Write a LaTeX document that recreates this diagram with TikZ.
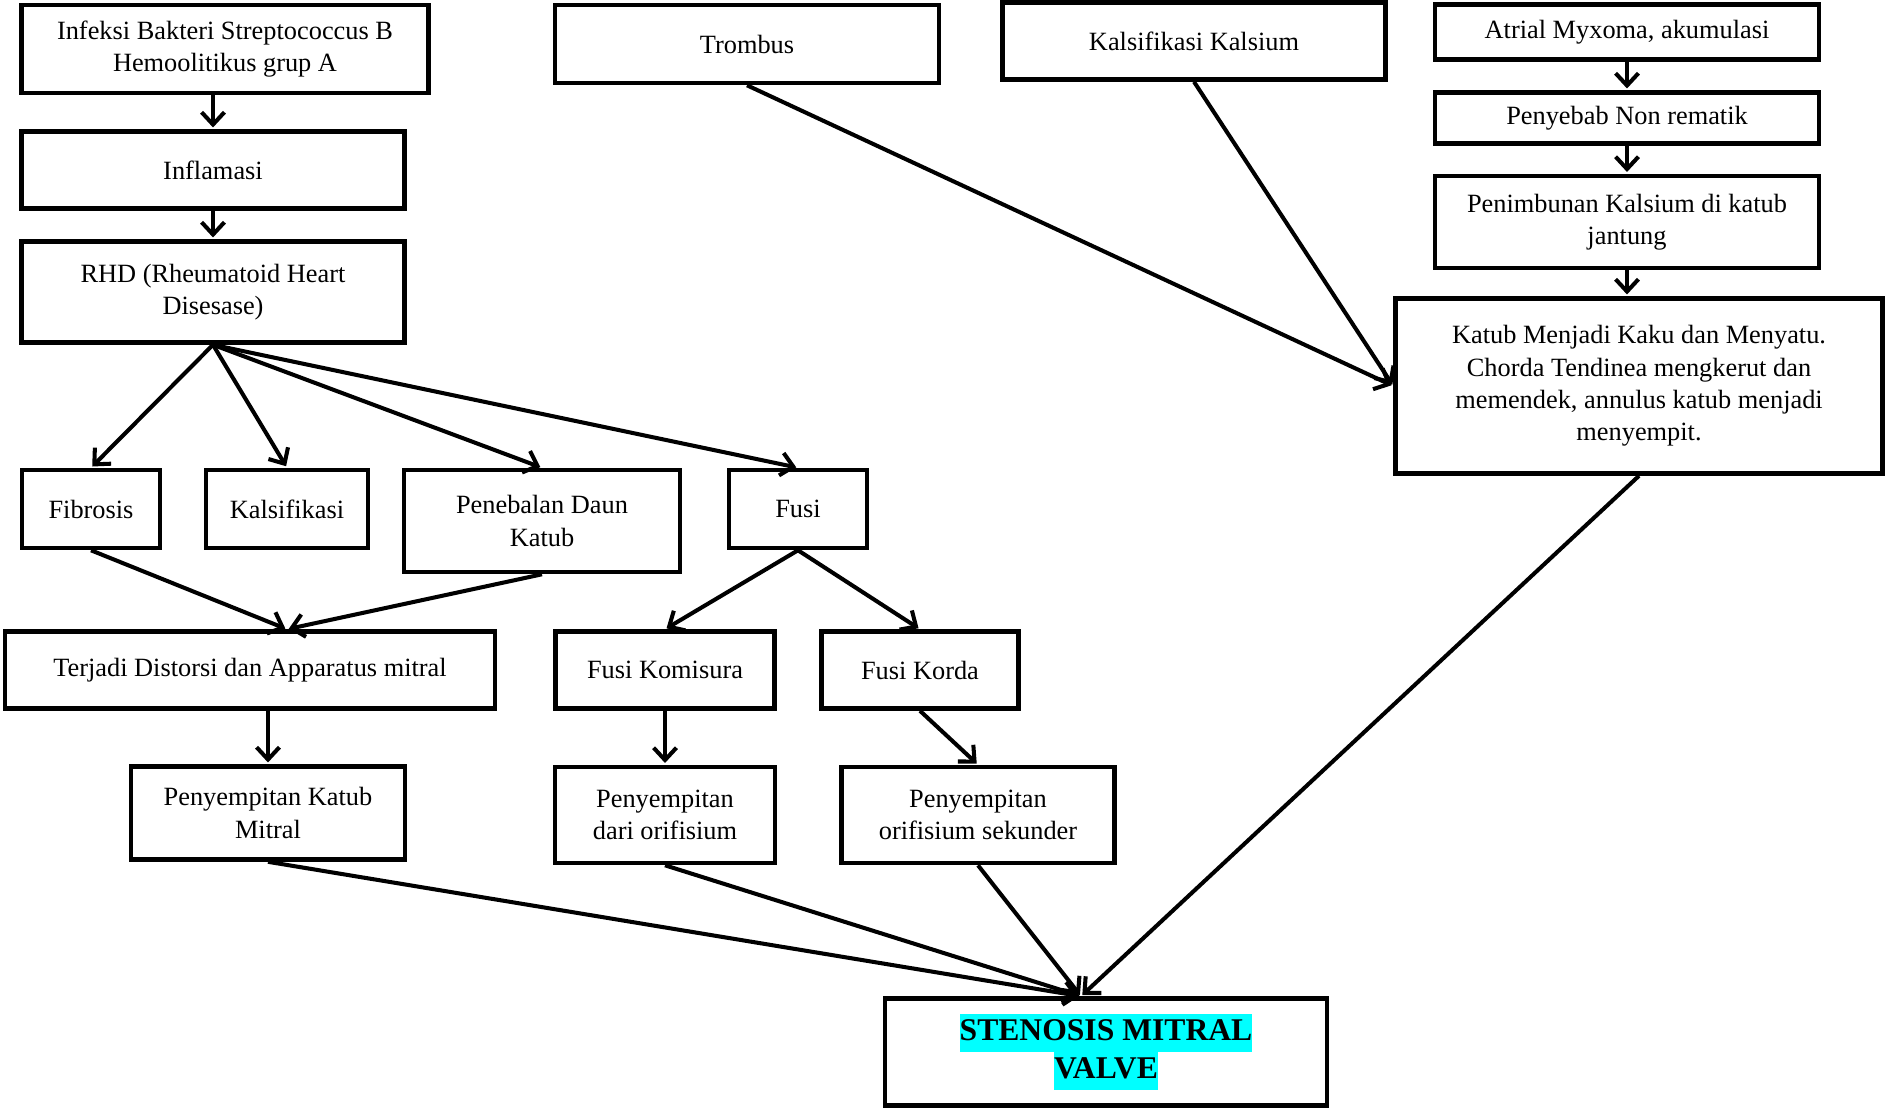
\documentclass[tikz,border=0pt]{standalone}
\usepackage{fontspec}
\setmainfont{Liberation Serif}
\usepackage{tikz}
\usetikzlibrary{arrows.meta}
\definecolor{sorot}{RGB}{0,255,255}

\begin{document}
\begin{tikzpicture}[x=0.02cm,y=-0.02cm,
        kotak/.style={rectangle,draw,line width=2.6pt,align=center,inner sep=2pt,
            font=\fontsize{15}{18.4}\selectfont},
        >={Straight Barb[length=7pt,width=13pt]},
        panah/.style={->,line width=2.3pt,shorten >=1pt}]
        \useasboundingbox (0,0) rectangle (1885,1107);

        % 左列: 风湿性病因
        \node[kotak,minimum width=8.14cm,minimum height=1.76cm] (infeksi) at (225,49) {Infeksi Bakteri Streptococcus B\\Hemoolitikus grup A};
        \node[kotak,minimum width=7.66cm,minimum height=1.54cm] (inflamasi) at (213,170) {Inflamasi};
        \node[kotak,minimum width=7.66cm,minimum height=2.02cm] (rhd) at (213,292) {RHD (Rheumatoid Heart\\Disesase)};

        % 上方: 其他病因
        \node[kotak,minimum width=7.68cm,minimum height=1.56cm] (trombus) at (747,44) {Trombus};
        \node[kotak,minimum width=7.66cm,minimum height=1.54cm] (kalsium) at (1194,41) {Kalsifikasi Kalsium};
        \node[kotak,minimum width=7.68cm,minimum height=1.10cm] (myxoma) at (1627,32) {Atrial Myxoma, akumulasi};
        \node[kotak,minimum width=7.68cm,minimum height=1.02cm] (nonrematik) at (1627,118) {Penyebab Non rematik};
        \node[kotak,minimum width=7.68cm,minimum height=1.84cm] (penimbunan) at (1627,222) {Penimbunan Kalsium di katub\\jantung};
        \node[kotak,minimum width=9.74cm,minimum height=3.5cm] (kaku) at (1639,386) {Katub Menjadi Kaku dan Menyatu.\\Chorda Tendinea mengkerut dan\\memendek, annulus katub menjadi\\menyempit.};

        % 中间层
        \node[kotak,minimum width=2.76cm,minimum height=1.56cm] (fibrosis) at (91,509) {Fibrosis};
        \node[kotak,minimum width=3.24cm,minimum height=1.56cm] (kalsif) at (287,509) {Kalsifikasi};
        \node[kotak,minimum width=5.52cm,minimum height=2.04cm] (penebalan) at (542,521) {Penebalan Daun\\Katub};
        \node[kotak,minimum width=2.76cm,minimum height=1.56cm] (fusi) at (798,509) {Fusi};

        \node[kotak,minimum width=9.8cm,minimum height=1.54cm] (distorsi) at (250,670) {Terjadi Distorsi dan Apparatus mitral};
        \node[kotak,minimum width=4.38cm,minimum height=1.54cm] (komisura) at (665,670) {Fusi Komisura};
        \node[kotak,minimum width=3.94cm,minimum height=1.54cm] (korda) at (920,670) {Fusi Korda};

        \node[kotak,minimum width=5.48cm,minimum height=1.86cm] (pkatub) at (268,813) {Penyempitan Katub\\Mitral};
        \node[kotak,minimum width=4.4cm,minimum height=1.92cm] (porif) at (665,815) {Penyempitan\\dari orifisium};
        \node[kotak,minimum width=5.46cm,minimum height=1.92cm] (psekunder) at (978,815) {Penyempitan\\orifisium sekunder};

        % 结果
        \node[kotak,minimum width=8.84cm,minimum height=2.14cm,
            font=\fontsize{18}{21.8}\selectfont\bfseries] (stenosis) at (1106,1052)
            {\setlength{\fboxsep}{0pt}\colorbox{sorot}{\strut STENOSIS MITRAL}\\\setlength{\fboxsep}{0pt}\colorbox{sorot}{\strut VALVE}};
        \coordinate (masuk) at ([xshift=-0.5cm]stenosis.north);

        % 连接节点
        \draw[panah] (infeksi.south -| inflamasi.north) -- (inflamasi.north);
        \draw[panah] (inflamasi) -- (rhd);
        \draw[panah] (rhd.south) -- (fibrosis.north);
        \draw[panah] (rhd.south) -- (kalsif.north);
        \draw[panah] (rhd.south) -- (penebalan.north);
        \draw[panah] (rhd.south) -- (fusi.north);

        \draw[panah] (fibrosis.south) -- (distorsi.north -| kalsif.south);
        \draw[panah] (penebalan.south) -- (distorsi.north -| kalsif.south);
        \draw[panah] (fusi.south) -- (komisura.north);
        \draw[panah] (fusi.south) -- (korda.north);

        \draw[panah] (distorsi.south -| pkatub.north) -- (pkatub.north);
        \draw[panah] (komisura.south) -- (porif.north);
        \draw[panah] (korda.south) -- (psekunder.north);

        \draw[panah] (myxoma) -- (nonrematik);
        \draw[panah] (nonrematik) -- (penimbunan);
        \draw[panah] (penimbunan.south) -- (penimbunan.south |- kaku.north);
        \draw[panah] (trombus.south) -- (kaku.west);
        \draw[panah] (kalsium.south) -- (kaku.west);

        % 连接到结果
        \draw[panah] (pkatub.south) -- (masuk);
        \draw[panah] (porif.south) -- (masuk);
        \draw[panah] (psekunder.south) -- (masuk);
        \draw[panah] (kaku.south) -- (masuk);
    \end{tikzpicture}
\end{document}
